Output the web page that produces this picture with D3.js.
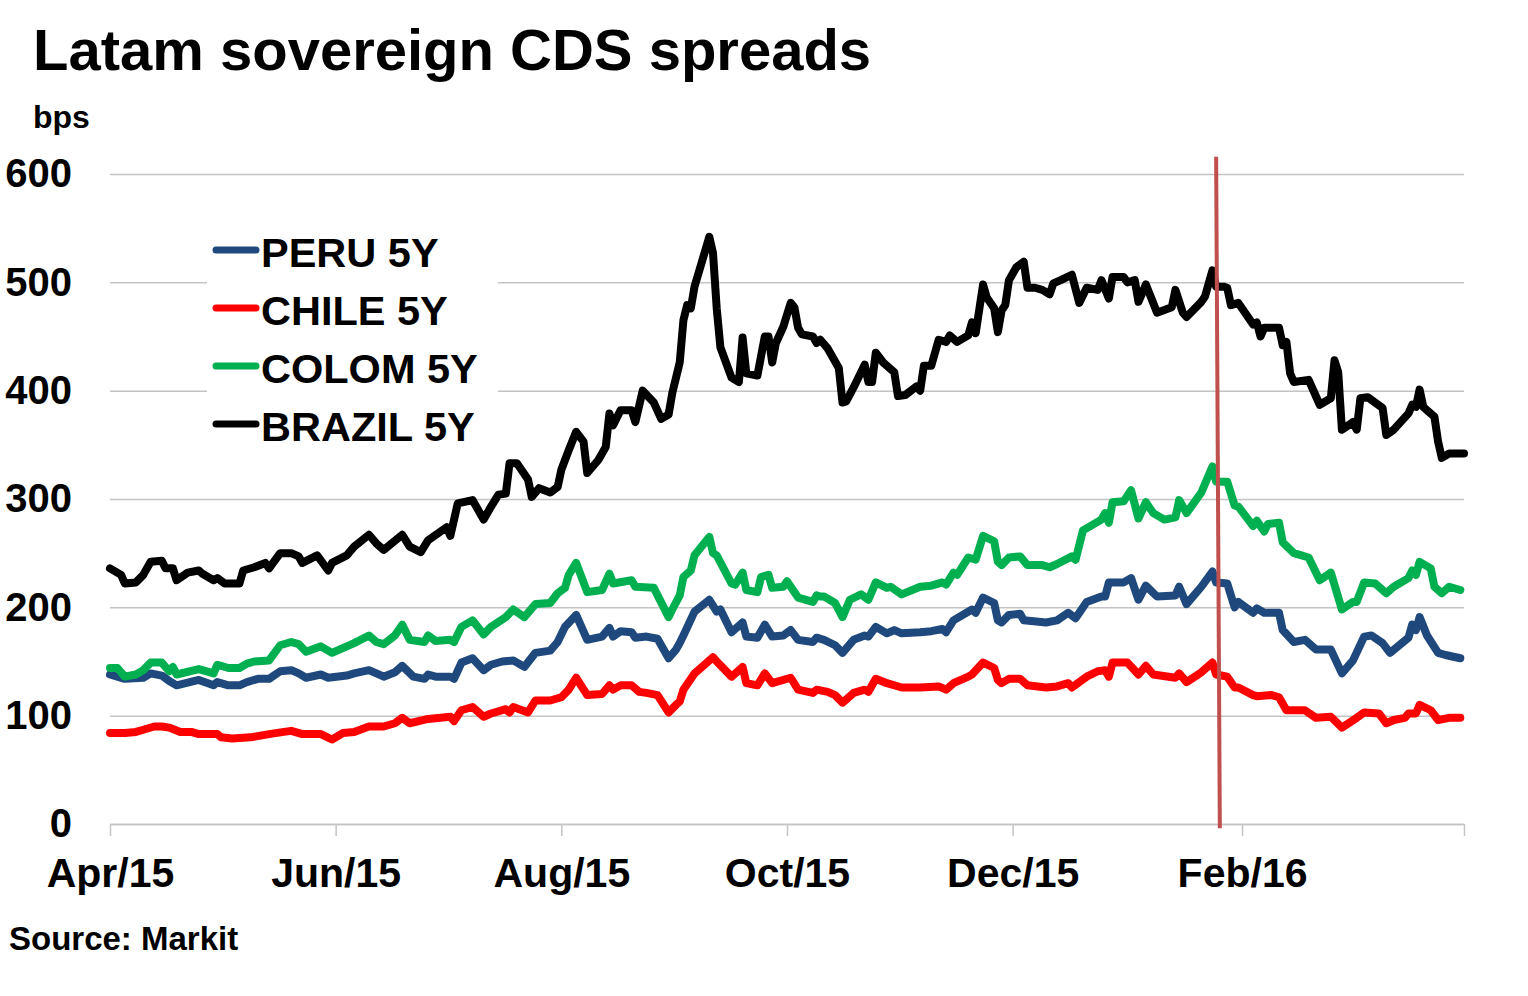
<!DOCTYPE html>
<html>
<head>
<meta charset="utf-8">
<script src="https://cdn.jsdelivr.net/npm/d3@7"></script>
<style>
  body { margin: 0; background: #fff; }
  text { font-family: "Liberation Sans", Arial, sans-serif; font-weight: bold; }
</style>
</head>
<body>
<script>
// values, bps
var peru = [
  ["2015-04-01",138],["2015-04-05",134],["2015-04-10",135],["2015-04-12",139],["2015-04-15",137],["2015-04-17",132],
  ["2015-04-19",128],["2015-04-25",133],["2015-04-29",128],["2015-04-30",131],["2015-05-03",128],["2015-05-06",128],
  ["2015-05-08",131],["2015-05-11",134],["2015-05-14",134],["2015-05-17",141],["2015-05-20",142],["2015-05-22",139],
  ["2015-05-24",135],["2015-05-28",138],["2015-05-30",135],["2015-06-04",137],["2015-06-06",139],["2015-06-10",142],
  ["2015-06-14",136],["2015-06-17",140],["2015-06-19",146],["2015-06-22",136],["2015-06-25",134],["2015-06-26",138],
  ["2015-06-28",136],["2015-07-02",136],["2015-07-03",134],["2015-07-05",149],["2015-07-08",153],["2015-07-11",142],
  ["2015-07-13",147],["2015-07-16",150],["2015-07-19",151],["2015-07-22",145],["2015-07-25",158],["2015-07-29",160],
  ["2015-07-31",168],["2015-08-02",182],["2015-08-05",193],["2015-08-08",170],["2015-08-12",173],["2015-08-14",181],
  ["2015-08-15",173],["2015-08-17",178],["2015-08-20",177],["2015-08-21",172],["2015-08-24",173],["2015-08-27",171],
  ["2015-08-30",153],["2015-09-01",161],["2015-09-02",167],["2015-09-03",174],["2015-09-06",196],["2015-09-10",207],
  ["2015-09-12",196],["2015-09-13",198],["2015-09-16",177],["2015-09-19",186],["2015-09-20",173],["2015-09-23",172],
  ["2015-09-25",184],["2015-09-27",173],["2015-09-30",174],["2015-10-02",179],["2015-10-04",170],["2015-10-08",168],
  ["2015-10-09",172],["2015-10-11",170],["2015-10-14",165],["2015-10-16",158],["2015-10-19",170],["2015-10-22",174],
  ["2015-10-23",173],["2015-10-25",182],["2015-10-28",176],["2015-10-30",179],["2015-11-01",176],["2015-11-06",177],
  ["2015-11-09",178],["2015-11-12",180],["2015-11-13",177],["2015-11-15",188],["2015-11-20",198],["2015-11-21",195],
  ["2015-11-23",209],["2015-11-26",204],["2015-11-27",188],["2015-11-28",186],["2015-11-30",193],["2015-12-03",194],
  ["2015-12-04",188],["2015-12-10",186],["2015-12-13",188],["2015-12-16",195],["2015-12-18",190],["2015-12-21",205],
  ["2015-12-25",210],["2015-12-26",210],["2015-12-27",223],["2015-12-31",223],["2016-01-02",227],["2016-01-04",207],
  ["2016-01-06",220],["2016-01-09",210],["2016-01-14",211],["2016-01-15",219],["2016-01-17",203],["2016-01-21",219],
  ["2016-01-24",233],["2016-01-25",223],["2016-01-28",222],["2016-01-30",200],["2016-01-31",205],["2016-02-04",195],
  ["2016-02-05",199],["2016-02-07",195],["2016-02-11",195],["2016-02-12",179],["2016-02-15",168],["2016-02-18",170],
  ["2016-02-21",161],["2016-02-25",161],["2016-02-28",139],["2016-03-02",151],["2016-03-05",173],["2016-03-07",174],
  ["2016-03-10",167],["2016-03-12",158],["2016-03-17",172],["2016-03-18",184],["2016-03-19",179],["2016-03-20",191],
  ["2016-03-22",174],["2016-03-25",158],["2016-03-27",156],["2016-03-31",153]
];

var chile = [
  ["2015-04-01",84],["2015-04-05",84],["2015-04-08",85],["2015-04-10",87],["2015-04-13",90],["2015-04-15",90],
  ["2015-04-17",89],["2015-04-20",85],["2015-04-23",85],["2015-04-25",83],["2015-04-30",83],["2015-05-01",80],
  ["2015-05-04",79],["2015-05-09",80],["2015-05-14",83],["2015-05-18",85],["2015-05-20",86],["2015-05-23",83],
  ["2015-05-28",83],["2015-05-31",78],["2015-06-03",84],["2015-06-06",85],["2015-06-10",90],["2015-06-14",90],
  ["2015-06-17",93],["2015-06-19",98],["2015-06-21",93],["2015-06-26",97],["2015-07-02",99],["2015-07-03",95],
  ["2015-07-05",105],["2015-07-08",108],["2015-07-11",99],["2015-07-13",102],["2015-07-17",106],["2015-07-18",103],
  ["2015-07-19",108],["2015-07-23",103],["2015-07-25",114],["2015-07-29",114],["2015-08-01",117],["2015-08-03",124],
  ["2015-08-05",135],["2015-08-08",119],["2015-08-12",120],["2015-08-14",128],["2015-08-15",124],["2015-08-17",128],
  ["2015-08-20",128],["2015-08-22",122],["2015-08-24",121],["2015-08-27",119],["2015-08-30",103],["2015-09-01",110],
  ["2015-09-02",113],["2015-09-03",124],["2015-09-06",139],["2015-09-11",154],["2015-09-12",150],["2015-09-16",136],
  ["2015-09-19",145],["2015-09-20",130],["2015-09-23",128],["2015-09-25",139],["2015-09-27",130],["2015-10-02",135],
  ["2015-10-04",124],["2015-10-08",121],["2015-10-09",124],["2015-10-12",122],["2015-10-14",119],["2015-10-16",112],
  ["2015-10-19",121],["2015-10-22",124],["2015-10-23",122],["2015-10-25",134],["2015-10-28",130],["2015-11-01",126],
  ["2015-11-06",126],["2015-11-11",127],["2015-11-13",124],["2015-11-15",130],["2015-11-19",136],["2015-11-20",138],
  ["2015-11-23",149],["2015-11-26",144],["2015-11-27",133],["2015-11-28",130],["2015-11-30",134],["2015-12-03",134],
  ["2015-12-05",128],["2015-12-10",126],["2015-12-13",127],["2015-12-16",130],["2015-12-17",126],["2015-12-21",136],
  ["2015-12-24",141],["2015-12-26",142],["2015-12-27",136],["2015-12-28",149],["2016-01-01",149],["2016-01-04",138],
  ["2016-01-06",146],["2016-01-08",138],["2016-01-14",135],["2016-01-15",139],["2016-01-17",131],["2016-01-21",140],
  ["2016-01-24",149],["2016-01-25",138],["2016-01-28",136],["2016-01-30",126],["2016-01-31",126],["2016-02-04",119],
  ["2016-02-05",118],["2016-02-09",119],["2016-02-11",117],["2016-02-13",105],["2016-02-18",105],["2016-02-21",98],
  ["2016-02-25",99],["2016-02-28",89],["2016-03-03",98],["2016-03-05",103],["2016-03-09",102],["2016-03-11",93],
  ["2016-03-13",96],["2016-03-16",98],["2016-03-17",102],["2016-03-19",102],["2016-03-20",110],["2016-03-23",105],
  ["2016-03-25",96],["2016-03-28",98],["2016-03-31",98]
];

var colom = [
  ["2015-04-01",144],["2015-04-03",144],["2015-04-05",136],["2015-04-08",138],["2015-04-10",142],["2015-04-12",149],
  ["2015-04-15",149],["2015-04-17",141],["2015-04-18",145],["2015-04-19",138],["2015-04-25",143],["2015-04-29",139],
  ["2015-04-30",147],["2015-05-03",144],["2015-05-06",144],["2015-05-08",148],["2015-05-10",150],["2015-05-14",151],
  ["2015-05-17",165],["2015-05-20",168],["2015-05-22",166],["2015-05-24",159],["2015-05-28",164],["2015-05-31",158],
  ["2015-06-04",164],["2015-06-06",167],["2015-06-10",174],["2015-06-12",168],["2015-06-14",166],["2015-06-17",174],
  ["2015-06-19",184],["2015-06-21",170],["2015-06-25",168],["2015-06-26",174],["2015-06-28",169],["2015-07-02",170],
  ["2015-07-03",168],["2015-07-05",182],["2015-07-08",188],["2015-07-11",175],["2015-07-13",182],["2015-07-17",191],
  ["2015-07-19",198],["2015-07-22",191],["2015-07-25",203],["2015-07-29",204],["2015-07-31",213],["2015-08-02",218],
  ["2015-08-03",230],["2015-08-05",241],["2015-08-08",214],["2015-08-12",216],["2015-08-14",231],["2015-08-15",222],
  ["2015-08-20",225],["2015-08-21",219],["2015-08-26",218],["2015-08-30",191],["2015-08-31",198],["2015-09-02",211],
  ["2015-09-03",228],["2015-09-05",234],["2015-09-06",248],["2015-09-10",265],["2015-09-11",250],["2015-09-12",248],
  ["2015-09-16",222],["2015-09-17",221],["2015-09-19",232],["2015-09-20",216],["2015-09-23",214],["2015-09-24",228],
  ["2015-09-26",230],["2015-09-27",218],["2015-09-30",219],["2015-10-01",224],["2015-10-04",209],["2015-10-08",205],
  ["2015-10-09",211],["2015-10-10",210],["2015-10-11",210],["2015-10-14",204],["2015-10-16",191],["2015-10-18",207],
  ["2015-10-21",212],["2015-10-23",207],["2015-10-25",223],["2015-10-28",218],["2015-10-29",219],["2015-11-01",212],
  ["2015-11-06",219],["2015-11-09",220],["2015-11-12",223],["2015-11-13",221],["2015-11-15",232],["2015-11-16",230],
  ["2015-11-19",246],["2015-11-21",244],["2015-11-23",266],["2015-11-26",261],["2015-11-27",242],["2015-11-28",239],
  ["2015-11-30",246],["2015-12-03",247],["2015-12-05",239],["2015-12-09",239],["2015-12-11",237],["2015-12-13",240],
  ["2015-12-17",247],["2015-12-18",244],["2015-12-20",271],["2015-12-25",281],["2015-12-26",287],["2015-12-27",278],
  ["2015-12-28",297],["2015-12-31",298],["2016-01-02",308],["2016-01-04",282],["2016-01-06",297],["2016-01-08",287],
  ["2016-01-11",281],["2016-01-14",283],["2016-01-15",299],["2016-01-17",287],["2016-01-21",306],["2016-01-24",330],
  ["2016-01-25",316],["2016-01-28",316],["2016-01-30",294],["2016-01-31",293],["2016-02-04",275],["2016-02-05",280],
  ["2016-02-07",270],["2016-02-08",277],["2016-02-11",278],["2016-02-12",260],["2016-02-15",250],["2016-02-19",246],
  ["2016-02-22",225],["2016-02-25",232],["2016-02-28",198],["2016-03-02",205],["2016-03-03",205],["2016-03-05",223],
  ["2016-03-08",222],["2016-03-11",213],["2016-03-13",219],["2016-03-17",227],["2016-03-18",234],["2016-03-19",230],
  ["2016-03-20",242],["2016-03-23",236],["2016-03-24",219],["2016-03-26",213],["2016-03-28",219],["2016-03-31",216]
];

var brazil = [
  ["2015-04-01",236],["2015-04-04",230],["2015-04-05",222],["2015-04-08",223],["2015-04-10",230],["2015-04-12",242],
  ["2015-04-15",243],["2015-04-16",236],["2015-04-18",236],["2015-04-19",225],["2015-04-22",232],["2015-04-25",234],
  ["2015-04-26",231],["2015-04-29",225],["2015-04-30",227],["2015-05-02",222],["2015-05-06",222],["2015-05-07",234],
  ["2015-05-10",237],["2015-05-13",241],["2015-05-14",236],["2015-05-17",250],["2015-05-20",250],["2015-05-22",247],
  ["2015-05-23",241],["2015-05-27",248],["2015-05-30",234],["2015-05-31",241],["2015-06-04",248],["2015-06-06",256],
  ["2015-06-10",267],["2015-06-12",259],["2015-06-14",253],["2015-06-19",267],["2015-06-21",256],["2015-06-24",251],
  ["2015-06-26",262],["2015-07-01",274],["2015-07-02",266],["2015-07-04",296],["2015-07-08",299],["2015-07-11",281],
  ["2015-07-13",293],["2015-07-15",304],["2015-07-17",305],["2015-07-18",333],["2015-07-20",333],["2015-07-23",318],
  ["2015-07-24",302],["2015-07-26",310],["2015-07-29",306],["2015-07-31",311],["2015-08-01",327],["2015-08-03",345],
  ["2015-08-05",362],["2015-08-07",353],["2015-08-08",324],["2015-08-11",336],["2015-08-13",348],["2015-08-14",379],
  ["2015-08-15",368],["2015-08-17",382],["2015-08-20",382],["2015-08-21",371],["2015-08-23",400],["2015-08-26",389],
  ["2015-08-28",374],["2015-08-30",378],["2015-08-31",398],["2015-09-02",426],["2015-09-03",465],["2015-09-04",479],
  ["2015-09-05",476],["2015-09-06",496],["2015-09-10",542],["2015-09-11",527],["2015-09-12",476],["2015-09-13",440],
  ["2015-09-16",412],["2015-09-18",408],["2015-09-19",449],["2015-09-20",416],["2015-09-23",414],["2015-09-25",450],
  ["2015-09-26",450],["2015-09-27",426],["2015-09-28",444],["2015-09-30",459],["2015-10-02",481],["2015-10-03",477],
  ["2015-10-04",458],["2015-10-05",452],["2015-10-08",450],["2015-10-09",444],["2015-10-10",447],["2015-10-12",439],
  ["2015-10-15",421],["2015-10-16",389],["2015-10-17",390],["2015-10-19",403],["2015-10-22",424],["2015-10-23",408],
  ["2015-10-24",408],["2015-10-25",435],["2015-10-27",426],["2015-10-30",417],["2015-10-31",395],["2015-11-02",396],
  ["2015-11-05",404],["2015-11-06",400],["2015-11-07",423],["2015-11-09",423],["2015-11-11",447],["2015-11-13",445],
  ["2015-11-14",451],["2015-11-16",445],["2015-11-19",451],["2015-11-20",463],["2015-11-21",453],["2015-11-23",498],
  ["2015-11-24",486],["2015-11-26",476],["2015-11-27",454],["2015-11-28",474],["2015-11-29",479],["2015-11-30",502],
  ["2015-12-02",514],["2015-12-04",519],["2015-12-05",495],["2015-12-07",495],["2015-12-09",493],["2015-12-11",489],
  ["2015-12-12",499],["2015-12-14",502],["2015-12-17",507],["2015-12-19",481],["2015-12-21",495],["2015-12-24",493],
  ["2015-12-25",502],["2015-12-27",485],["2015-12-28",505],["2015-12-31",505],["2016-01-01",500],["2016-01-03",502],
  ["2016-01-04",482],["2016-01-06",498],["2016-01-08",481],["2016-01-09",472],["2016-01-13",477],["2016-01-14",493],
  ["2016-01-16",472],["2016-01-17",468],["2016-01-21",482],["2016-01-22",487],["2016-01-24",511],["2016-01-25",496],
  ["2016-01-27",496],["2016-01-28",495],["2016-01-29",479],["2016-01-31",481],["2016-02-04",461],["2016-02-05",463],
  ["2016-02-06",450],["2016-02-07",458],["2016-02-11",458],["2016-02-12",442],["2016-02-13",445],["2016-02-14",416],
  ["2016-02-15",408],["2016-02-19",410],["2016-02-22",387],["2016-02-25",393],["2016-02-26",428],["2016-02-27",417],
  ["2016-02-28",364],["2016-03-02",371],["2016-03-03",364],["2016-03-04",393],["2016-03-06",394],["2016-03-10",384],
  ["2016-03-11",359],["2016-03-13",364],["2016-03-17",379],["2016-03-18",387],["2016-03-19",385],["2016-03-20",401],
  ["2016-03-21",385],["2016-03-24",376],["2016-03-25",353],["2016-03-26",338],["2016-03-28",342],["2016-04-01",342]
];

var seriesNames = ["PERU 5Y", "CHILE 5Y", "COLOM 5Y", "BRAZIL 5Y"];
var seriesColors = ["#1f497d", "#ff0000", "#00b050", "#000000"];
var yTicks = [0, 100, 200, 300, 400, 500, 600];
var xTicks = ["2015-04-01", "2015-06-01", "2015-08-01", "2015-10-01", "2015-12-01", "2016-02-01", "2016-04-01"];
var xDomain = ["2015-04-01", "2016-04-01"];
// red marker line (slightly slanted in the original)
var markerDates = ["2016-01-25", "2016-01-26"];
var markerValues = [616, -4];

var parse = d3.timeParse("%Y-%m-%d");
var fmt = d3.timeFormat("%b/%y");

var width = 1528, height = 996;
var margin = {top: 174, right: 64, bottom: 172, left: 110};

var svg = d3.select("body").append("svg")
  .attr("width", width)
  .attr("height", height);

var x = d3.scaleTime()
  .domain(xDomain.map(parse))
  .range([margin.left, width - margin.right]);

var y = d3.scaleLinear()
  .domain([0, 600])
  .range([height - margin.bottom, margin.top]);

// title and notes
svg.append("text").attr("x", 33).attr("y", 70).attr("font-size", 58).text("Latam sovereign CDS spreads");
svg.append("text").attr("x", 33).attr("y", 128).attr("font-size", 32).text("bps");
svg.append("text").attr("x", 9).attr("y", 950).attr("font-size", 33).text("Source: Markit");

// y axis with gridlines
svg.append("g")
  .attr("transform", "translate(" + margin.left + ",0)")
  .attr("font-family", null).attr("font-size", null)
  .call(d3.axisLeft(y).tickValues(yTicks).tickSize(-(width - margin.left - margin.right)).tickPadding(38))
  .call(function(g){ g.select(".domain").remove(); })
  .call(function(g){ g.selectAll(".tick line").attr("stroke", "#c4c4c4").attr("stroke-width", 1.5); })
  .call(function(g){ g.selectAll(".tick text").attr("font-size", 40).attr("fill", "#000"); });

// x axis
svg.append("g")
  .attr("transform", "translate(0," + (height - margin.bottom) + ")")
  .attr("font-family", null).attr("font-size", null)
  .call(d3.axisBottom(x).tickValues(xTicks.map(parse)).tickSize(12).tickSizeOuter(0).tickPadding(22)
    .tickFormat(function(d, i){ return i < xTicks.length - 1 ? fmt(d) : ""; }))
  .call(function(g){ g.select(".domain").attr("stroke", "#c4c4c4").attr("stroke-width", 1.5); })
  .call(function(g){ g.selectAll(".tick line").attr("stroke", "#c4c4c4").attr("stroke-width", 1.5); })
  .call(function(g){ g.selectAll(".tick text").attr("font-size", 41).attr("fill", "#000"); });

// legend box covers the gridlines behind it
var legend = svg.append("g");
legend.append("rect")
  .attr("x", 207).attr("y", 222).attr("width", 291).attr("height", 236)
  .attr("fill", "#fff");

var line = d3.line()
  .x(function(d){ return x(parse(d[0])); })
  .y(function(d){ return y(d[1]); });

var allSeries = [peru, chile, colom, brazil];

svg.append("g")
  .selectAll("path")
  .data(allSeries)
  .enter().append("path")
  .attr("d", line)
  .attr("fill", "none")
  .attr("stroke", function(d, i){ return seriesColors[i]; })
  .attr("stroke-width", 8)
  .attr("stroke-linejoin", "round")
  .attr("stroke-linecap", "round");

var item = legend.selectAll(".item")
  .data(seriesNames)
  .enter().append("g")
  .attr("class", "item")
  .attr("transform", function(d, i){ return "translate(0," + (i * 58) + ")"; });

item.append("line")
  .attr("x1", 216).attr("x2", 256).attr("y1", 250).attr("y2", 250)
  .attr("stroke", function(d, i){ return seriesColors[i]; })
  .attr("stroke-width", 7)
  .attr("stroke-linecap", "round");

item.append("text")
  .attr("x", 261).attr("y", 267)
  .attr("font-size", 41.5)
  .text(function(d){ return d; });

// vertical marker
svg.append("line")
  .attr("x1", x(parse(markerDates[0]))).attr("y1", y(markerValues[0]))
  .attr("x2", x(parse(markerDates[1]))).attr("y2", y(markerValues[1]))
  .attr("stroke", "#c0504d")
  .attr("stroke-width", 4);
</script>
</body>
</html>
